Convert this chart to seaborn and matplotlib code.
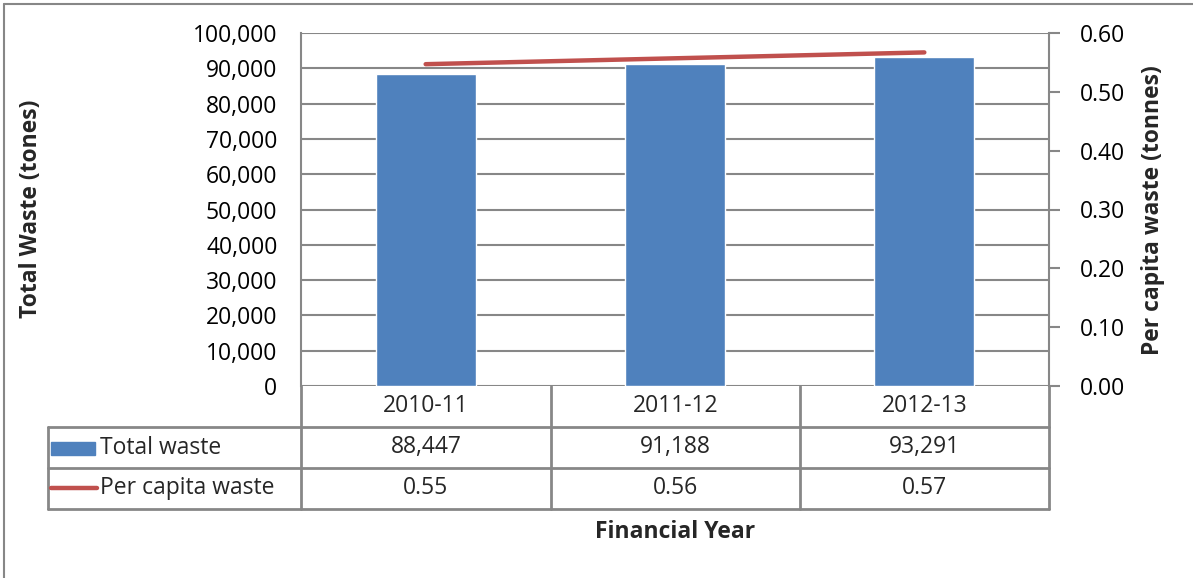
import matplotlib
matplotlib.use("Agg")
import matplotlib.pyplot as plt
from matplotlib.lines import Line2D
from matplotlib.patches import Rectangle
from matplotlib.ticker import FuncFormatter
import pandas as pd
import seaborn as sns

# data
years = ["2010-11", "2011-12", "2012-13"]
total_waste = [88447, 91188, 93291]
per_capita = [0.547, 0.557, 0.567]
per_capita_labels = ["0.55", "0.56", "0.57"]

df = pd.DataFrame({"year": years, "total": total_waste, "per_capita": per_capita})

sns.set_theme(style="white")
plt.rcParams["font.family"] = ["Open Sans", "DejaVu Sans"]

W, H = 1193, 578
fig = plt.figure(figsize=(W / 100, H / 100), dpi=100)

def fx(px):
    return px / W

def fy(py):
    return 1 - py / H

GRAY = "#878787"
BLUE = "#4F81BD"
RED = "#C0504D"
FS = 16.5

# plot area in pixels: x 301-1049, y 33-386
left, right, top, bottom = 301, 1049, 33, 386
ax = fig.add_axes([fx(left), fy(bottom), fx(right) - fx(left), fy(top) - fy(bottom)])

sns.barplot(data=df, x="year", y="total", color=BLUE, width=0.4,
            saturation=1, ax=ax, zorder=3)
ax.set_xlim(-0.5, 2.5)
ax.set_ylim(0, 100000)
ax.set_yticks(range(0, 100001, 10000))
ax.yaxis.set_major_formatter(FuncFormatter(lambda v, p: f"{int(v):,}"))
ax.grid(axis="y", color=GRAY, linewidth=1.5, zorder=0)
ax.set_axisbelow(True)
ax.tick_params(axis="y", labelsize=FS, pad=17, length=0, labelcolor="black")
ax.set_xticks([])
ax.set_xlabel("")
ax.set_ylabel("")
for s in ["top", "right", "bottom"]:
    ax.spines[s].set_visible(False)
ax.spines["left"].set_color(GRAY)
ax.spines["left"].set_linewidth(1.5)

ax2 = ax.twinx()
sns.lineplot(data=df, x="year", y="per_capita", color=RED, linewidth=3.2,
             ax=ax2, solid_capstyle="round", zorder=4)
ax2.set_ylim(0, 0.6)
ax2.set_yticks([i / 10 for i in range(7)])
ax2.yaxis.set_major_formatter(FuncFormatter(lambda v, p: f"{v:.2f}"))
ax2.tick_params(axis="y", labelsize=FS, length=8, width=1.5, color=GRAY,
                pad=14, labelcolor="black")
ax2.set_ylabel("")
ax2.set_xlabel("")
for s in ["top", "left", "bottom"]:
    ax2.spines[s].set_visible(False)
ax2.spines["right"].set_color(GRAY)
ax2.spines["right"].set_linewidth(1.5)

# axis titles
fig.text(fx(31), fy(209), "Total Waste (tones)", rotation=90, ha="center",
         va="center", fontsize=FS, fontweight="bold")
fig.text(fx(1153), fy(210), "Per capita waste (tonnes)", rotation=90,
         ha="center", va="center", fontsize=FS, fontweight="bold")
fig.text(fx(675), fy(532), "Financial Year", ha="center", va="center",
         fontsize=FS, fontweight="bold")

# data table
cols = [301, 551, 800, 1049]
rows = [386, 427, 468, 509]
tlw = 2.0

def hline(x0, x1, y):
    fig.add_artist(Line2D([fx(x0), fx(x1)], [fy(y), fy(y)], color=GRAY, lw=tlw))

def vline(x, y0, y1):
    fig.add_artist(Line2D([fx(x), fx(x)], [fy(y0), fy(y1)], color=GRAY, lw=tlw))

hline(48, 1049, rows[1])
hline(48, 1049, rows[2])
hline(48, 1049, rows[3])
vline(48, rows[1], rows[3])
for c in cols:
    vline(c, rows[0], rows[3])

centers = [(cols[i] + cols[i + 1]) / 2 for i in range(3)]
for i, y in enumerate(years):
    fig.text(fx(centers[i]), fy((rows[0] + rows[1]) / 2), y, ha="center",
             va="center", fontsize=FS)
    fig.text(fx(centers[i]), fy((rows[1] + rows[2]) / 2), f"{total_waste[i]:,}",
             ha="center", va="center", fontsize=FS)
    fig.text(fx(centers[i]), fy((rows[2] + rows[3]) / 2), per_capita_labels[i],
             ha="center", va="center", fontsize=FS)

fig.add_artist(Rectangle((fx(51), fy(455)), fx(95) - fx(51), fy(442) - fy(455),
                         color=BLUE, transform=fig.transFigure))
fig.add_artist(Line2D([fx(51), fx(97)], [fy(488), fy(488)], color=RED, lw=3.2,
                      solid_capstyle="round"))
fig.text(fx(100), fy((rows[1] + rows[2]) / 2), "Total waste", ha="left",
         va="center", fontsize=FS)
fig.text(fx(100), fy((rows[2] + rows[3]) / 2), "Per capita waste", ha="left",
         va="center", fontsize=FS)

# outer chart border (only top and left visible)
fig.add_artist(Line2D([fx(4), fx(1193)], [fy(4), fy(4)], color=GRAY, lw=1.5))
fig.add_artist(Line2D([fx(4), fx(4)], [fy(4), fy(578)], color=GRAY, lw=1.5))

fig.savefig("out.png", dpi=100, facecolor="white")
